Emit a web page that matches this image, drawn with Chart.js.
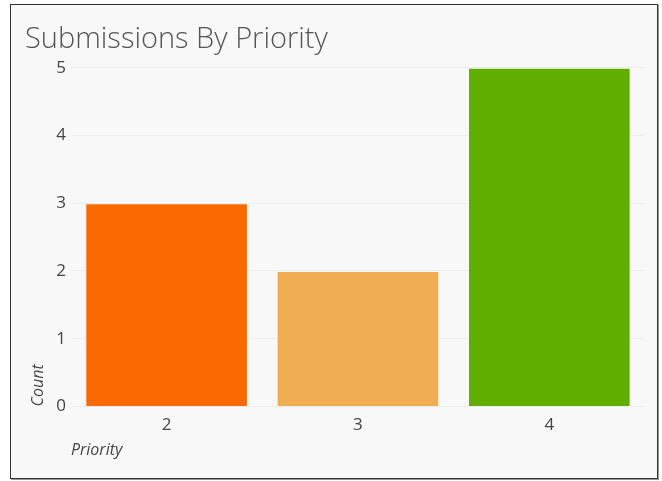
<!DOCTYPE html>
<html>
<head>
<meta charset="utf-8">
<script src="https://cdn.jsdelivr.net/npm/chart.js@4"></script>
<style>
  body { margin: 0; background: #fff; }
  #marco {
    position: absolute; left: 10px; top: 4px;
    width: 646px; height: 473px;
    border: 1px solid #333;
    box-shadow: 1px 1px 0 #999;
    background: #f8f8f8;
  }
  canvas { display: block; }
</style>
</head>
<body>
<div id="marco"><canvas id="grafico" width="646" height="473"></canvas></div>
<script>
// Datos
const prioridades = ['2', '3', '4'];
const cantidades = [3, 2, 5];
const coloresBarras = ['#fb6a00', '#f0ad52', '#5fae00'];

const fuente = "'Open Sans', 'Noto Sans', sans-serif";

const ctx = document.getElementById('grafico');
new Chart(ctx, {
    type: 'bar',
    data: {
        labels: prioridades,
        datasets: [{
            label: 'Count',
            data: cantidades,
            backgroundColor: coloresBarras,
            borderColor: 'rgba(255,255,255,0.35)',
            borderWidth: 1,
            barPercentage: 0.85,
            categoryPercentage: 1
        }]
    },
    options: {
        responsive: false,
        animation: false,
        layout: { padding: { left: 14, right: 12, top: 0, bottom: 18 } },
        plugins: {
            legend: { display: false },
            tooltip: { enabled: false },
            title: {
                display: true,
                text: 'Submissions By Priority',
                align: 'start',
                color: '#555',
                font: { family: fuente, size: 29, weight: 300 },
                padding: { top: 17, bottom: 11 }
            }
        },
        scales: {
            x: {
                grid: { display: false, drawTicks: false },
                border: { display: false },
                ticks: { color: '#444', font: { family: fuente, size: 17 }, padding: 9 },
                title: {
                    display: true, text: 'Priority', align: 'start', color: '#444',
                    font: { family: fuente, size: 16, style: 'italic' }, padding: { top: -4, bottom: 0 }
                }
            },
            y: {
                min: 0, max: 5,
                grid: { color: '#ececec', drawTicks: false },
                border: { display: false },
                ticks: { stepSize: 1, color: '#444', font: { family: fuente, size: 17 }, padding: 5 },
                title: {
                    display: true, text: 'Count', align: 'start', color: '#444',
                    font: { family: fuente, size: 16, style: 'italic' }, padding: { top: 4, bottom: 3 }
                }
            }
        }
    }
});
</script>
</body>
</html>
